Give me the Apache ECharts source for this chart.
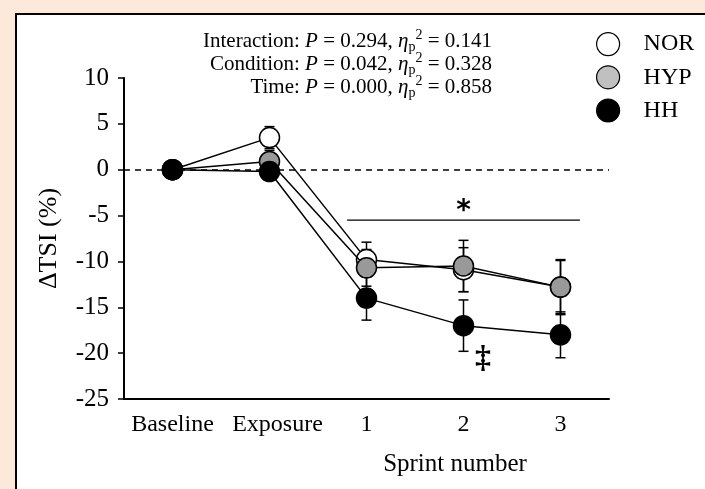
<!DOCTYPE html>
<html>
<head>
<meta charset="utf-8">
<script src="https://cdn.jsdelivr.net/npm/echarts@6/dist/echarts.min.js"></script>
<style>
  html, body { margin: 0; padding: 0; background: #fce9da; }
  #chart { width: 705px; height: 489px; }
</style>
</head>
<body>
<div id="chart"></div>
<script>
// categories on the x axis
var categories = ['Baseline', 'Exposure', '1', '2', '3'];
var yTicks = [-25, -20, -15, -10, -5, 0, 5, 10];

// mean change in TSI (%)
var norValues = [0, 3.5, -9.8, -10.9, -12.8];
var hypValues = [0, 0.9, -10.7, -10.5, -12.8];
var hhValues = [0, -0.2, -14.0, -17.0, -18.0];

// error (SD)
var norErr = [0, 1.2, 1.9, 2.4, 3.0];
var hypErr = [0, 1.2, 2.0, 2.8, 2.9];
var hhErr = [0, 0.6, 2.4, 2.8, 2.5];

// significance bar across sprints (x in category index units)
var sigBar = [[1.8, -5.5], [4.2, -5.5]];
var starPos = [3.0, -4.6];
var daggerPos = [3.2, -20.6];

var serif = 'Liberation Serif';

var chart = echarts.init(document.getElementById('chart'));

function errData(vals, errs) {
  var out = [];
  for (var i = 0; i < vals.length; i++) {
    if (errs[i] > 0) out.push([i, vals[i], errs[i]]);
  }
  return out;
}

function errBars(name, vals, errs) {
  return {
    type: 'custom',
    name: name + '-err',
    z: 1,
    silent: true,
    data: errData(vals, errs),
    renderItem: function (params, api) {
      var x = api.value(0), v = api.value(1), e = api.value(2);
      var top = api.coord([x, v + e]);
      var bot = api.coord([x, v - e]);
      var cw = 5;
      var st = { stroke: '#000', lineWidth: 1.5 };
      return {
        type: 'group',
        children: [
          { type: 'line', shape: { x1: top[0], y1: top[1], x2: bot[0], y2: bot[1] }, style: st },
          { type: 'line', shape: { x1: top[0] - cw, y1: top[1], x2: top[0] + cw, y2: top[1] }, style: st },
          { type: 'line', shape: { x1: bot[0] - cw, y1: bot[1], x2: bot[0] + cw, y2: bot[1] }, style: st }
        ]
      };
    }
  };
}

function lineSeries(name, vals, fill, z) {
  return {
    type: 'line',
    name: name,
    data: vals,
    z: z,
    symbol: 'circle',
    symbolSize: 20,
    lineStyle: { color: '#000', width: 1.5 },
    itemStyle: { color: fill, borderColor: '#000', borderWidth: 1.5 },
    emphasis: { disabled: true }
  };
}

var statRich = {
  n: { fontFamily: serif, fontSize: 21, color: '#000', lineHeight: 26 },
  i: { fontFamily: serif, fontSize: 21, fontStyle: 'italic', color: '#000', lineHeight: 26 },
  sub: { fontFamily: serif, fontSize: 14, color: '#000', lineHeight: 14, verticalAlign: 'bottom' },
  sup: { fontFamily: serif, fontSize: 14, color: '#000', lineHeight: 14, verticalAlign: 'top' }
};

function statText(y, label, p, eta) {
  return {
    type: 'text', x: 492, y: y, z: 10,
    style: {
      text: '{n|' + label + ': }{i|P}{n| = ' + p + ', }{i|η}{sub|p}{sup|2}{n| = ' + eta + '}',
      align: 'right', verticalAlign: 'middle',
      rich: statRich
    }
  };
}

// nudge the "Exposure" label a little right like the original
var catData = categories.map(function (c) {
  if (c === 'Exposure') return { value: c, textStyle: { padding: [0, 0, 0, 16] } };
  return c;
});

var option = {
  backgroundColor: '#fce9da',
  animation: false,
  graphic: [
    {
      type: 'rect', z: -10, silent: true,
      shape: { x: 16, y: 14, width: 900, height: 900 },
      style: { fill: '#fff', stroke: '#000', lineWidth: 2 }
    },
    statText(41, 'Interaction', '0.294', '0.141'),
    statText(64, 'Condition', '0.042', '0.328'),
    statText(87, 'Time', '0.000', '0.858'),
    {
      type: 'text', x: 455, y: 464, z: 10,
      style: {
        text: 'Sprint number', fill: '#000',
        font: '25px "Liberation Serif"',
        align: 'center', verticalAlign: 'middle'
      }
    }
  ],
  legend: {
    orient: 'vertical',
    left: 591,
    top: 27,
    itemWidth: 23,
    itemHeight: 23,
    itemGap: 9,
    icon: 'circle',
    textStyle: { fontFamily: serif, fontSize: 24, color: '#000', padding: [0, 0, 0, 19] },
    data: [
      { name: 'NOR', itemStyle: { color: '#fff', borderColor: '#000', borderWidth: 1.2 } },
      { name: 'HYP', itemStyle: { color: '#c0c0c0', borderColor: '#000', borderWidth: 1.2 } },
      { name: 'HH', itemStyle: { color: '#000', borderColor: '#000', borderWidth: 1.2 } }
    ]
  },
  grid: { left: 124, top: 78, width: 485, bottom: 90 },
  xAxis: [
    {
      type: 'category',
      data: catData,
      boundaryGap: true,
      axisLine: { onZero: false, lineStyle: { color: '#000', width: 2 } },
      axisTick: { alignWithLabel: true, length: 5, lineStyle: { color: '#000', width: 1.5 } },
      axisLabel: { interval: 0, color: '#000', fontFamily: serif, fontSize: 24, margin: 14 },
      splitLine: { show: false }
    },
    {
      type: 'value', show: false, min: -0.5, max: 4.5,
      axisLine: { onZero: false }
    }
  ],
  yAxis: {
    type: 'value',
    min: yTicks[0],
    max: yTicks[yTicks.length - 1],
    interval: 5,
    name: 'ΔTSI (%)',
    nameLocation: 'middle',
    nameGap: 62,
    nameTextStyle: { fontFamily: serif, fontSize: 26, color: '#000' },
    axisLine: { show: true, onZero: false, lineStyle: { color: '#000', width: 2 } },
    axisTick: { show: true, length: 6, lineStyle: { color: '#000', width: 1.5 } },
    axisLabel: { color: '#000', fontFamily: serif, fontSize: 25, margin: 15 },
    splitLine: { show: false }
  },
  series: [
    errBars('NOR', norValues, norErr),
    errBars('HYP', hypValues, hypErr),
    errBars('HH', hhValues, hhErr),
    lineSeries('NOR', norValues, '#fff', 3),
    lineSeries('HYP', hypValues, '#999999', 4),
    lineSeries('HH', hhValues, '#000', 5),
    {
      type: 'line',
      name: 'zero',
      data: [],
      markLine: {
        silent: true,
        symbol: 'none',
        label: { show: false },
        lineStyle: { color: '#000', width: 1.5, type: [6, 5] },
        data: [{ yAxis: 0 }]
      }
    },
    {
      type: 'line',
      name: 'sig',
      xAxisIndex: 1,
      data: sigBar,
      symbol: 'none',
      silent: true,
      lineStyle: { color: '#000', width: 1.2 }
    },
    {
      type: 'scatter',
      name: 'marks',
      xAxisIndex: 1,
      silent: true,
      symbolSize: 0,
      itemStyle: { opacity: 1 },
      data: [
        { value: starPos, label: { formatter: '*', fontSize: 28, fontWeight: 'bold', fontFamily: 'DejaVu Sans' } },
        { value: daggerPos, label: { formatter: '‡', fontSize: 32, fontWeight: 'bold', fontFamily: serif } }
      ],
      label: { show: true, position: 'inside', color: '#000', opacity: 1 }
    }
  ]
};

chart.setOption(option);
</script>
</body>
</html>
